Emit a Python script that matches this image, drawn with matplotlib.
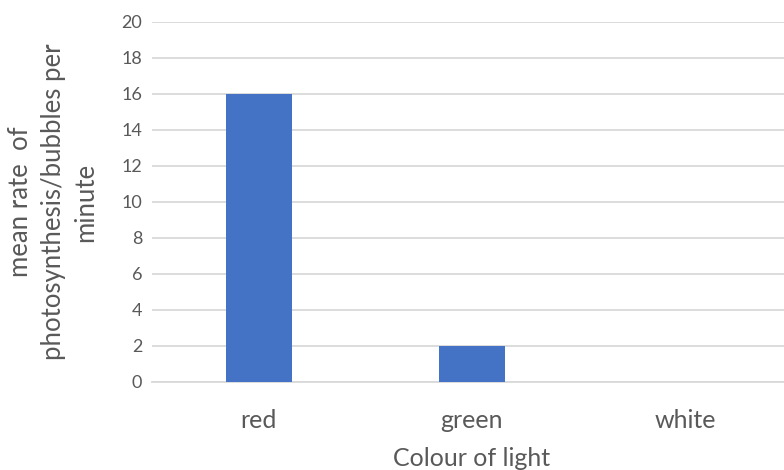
import matplotlib.pyplot as plt

plt.rcParams['font.family'] = ['Lato', 'DejaVu Sans']

colours = ['red', 'green', 'white']
mean_rate = [16, 2, 0]
y_ticks = [0, 2, 4, 6, 8, 10, 12, 14, 16, 18, 20]

fig = plt.figure(figsize=(7.84, 4.70), dpi=100)
ax = fig.add_axes([152 / 784, 88.5 / 470, 639.5 / 784, 360 / 470])

x = range(len(colours))
ax.bar(x, mean_rate, width=0.31, color='#4472c4', zorder=3)

ax.set_xlim(-0.5, 2.5)
ax.set_ylim(0, 20)
ax.set_yticks(y_ticks)
ax.set_xticks(list(x))
ax.set_xticklabels(colours, fontsize=18, color='#595959')
ax.tick_params(axis='y', labelsize=13, colors='#595959', length=0, pad=7)
ax.tick_params(axis='x', length=0, pad=20)
ax.grid(axis='y', color='#d9d9d9', linewidth=1.3, zorder=0)
for side in ['top', 'right', 'left']:
    ax.spines[side].set_visible(False)
ax.spines['bottom'].set_color('#d9d9d9')
ax.spines['bottom'].set_linewidth(1.3)

fig.text(472 / 784, 12 / 470, 'Colour of light', ha='center', va='center',
         fontsize=18, color='#595959')
fig.text(53 / 784, 1 - 202 / 470,
         'mean rate  of\nphotosynthesis/bubbles per\nminute',
         rotation=90, ha='center', va='center', multialignment='center',
         fontsize=18.5, color='#595959', linespacing=1.4)

fig.savefig('out.png', dpi=100)
